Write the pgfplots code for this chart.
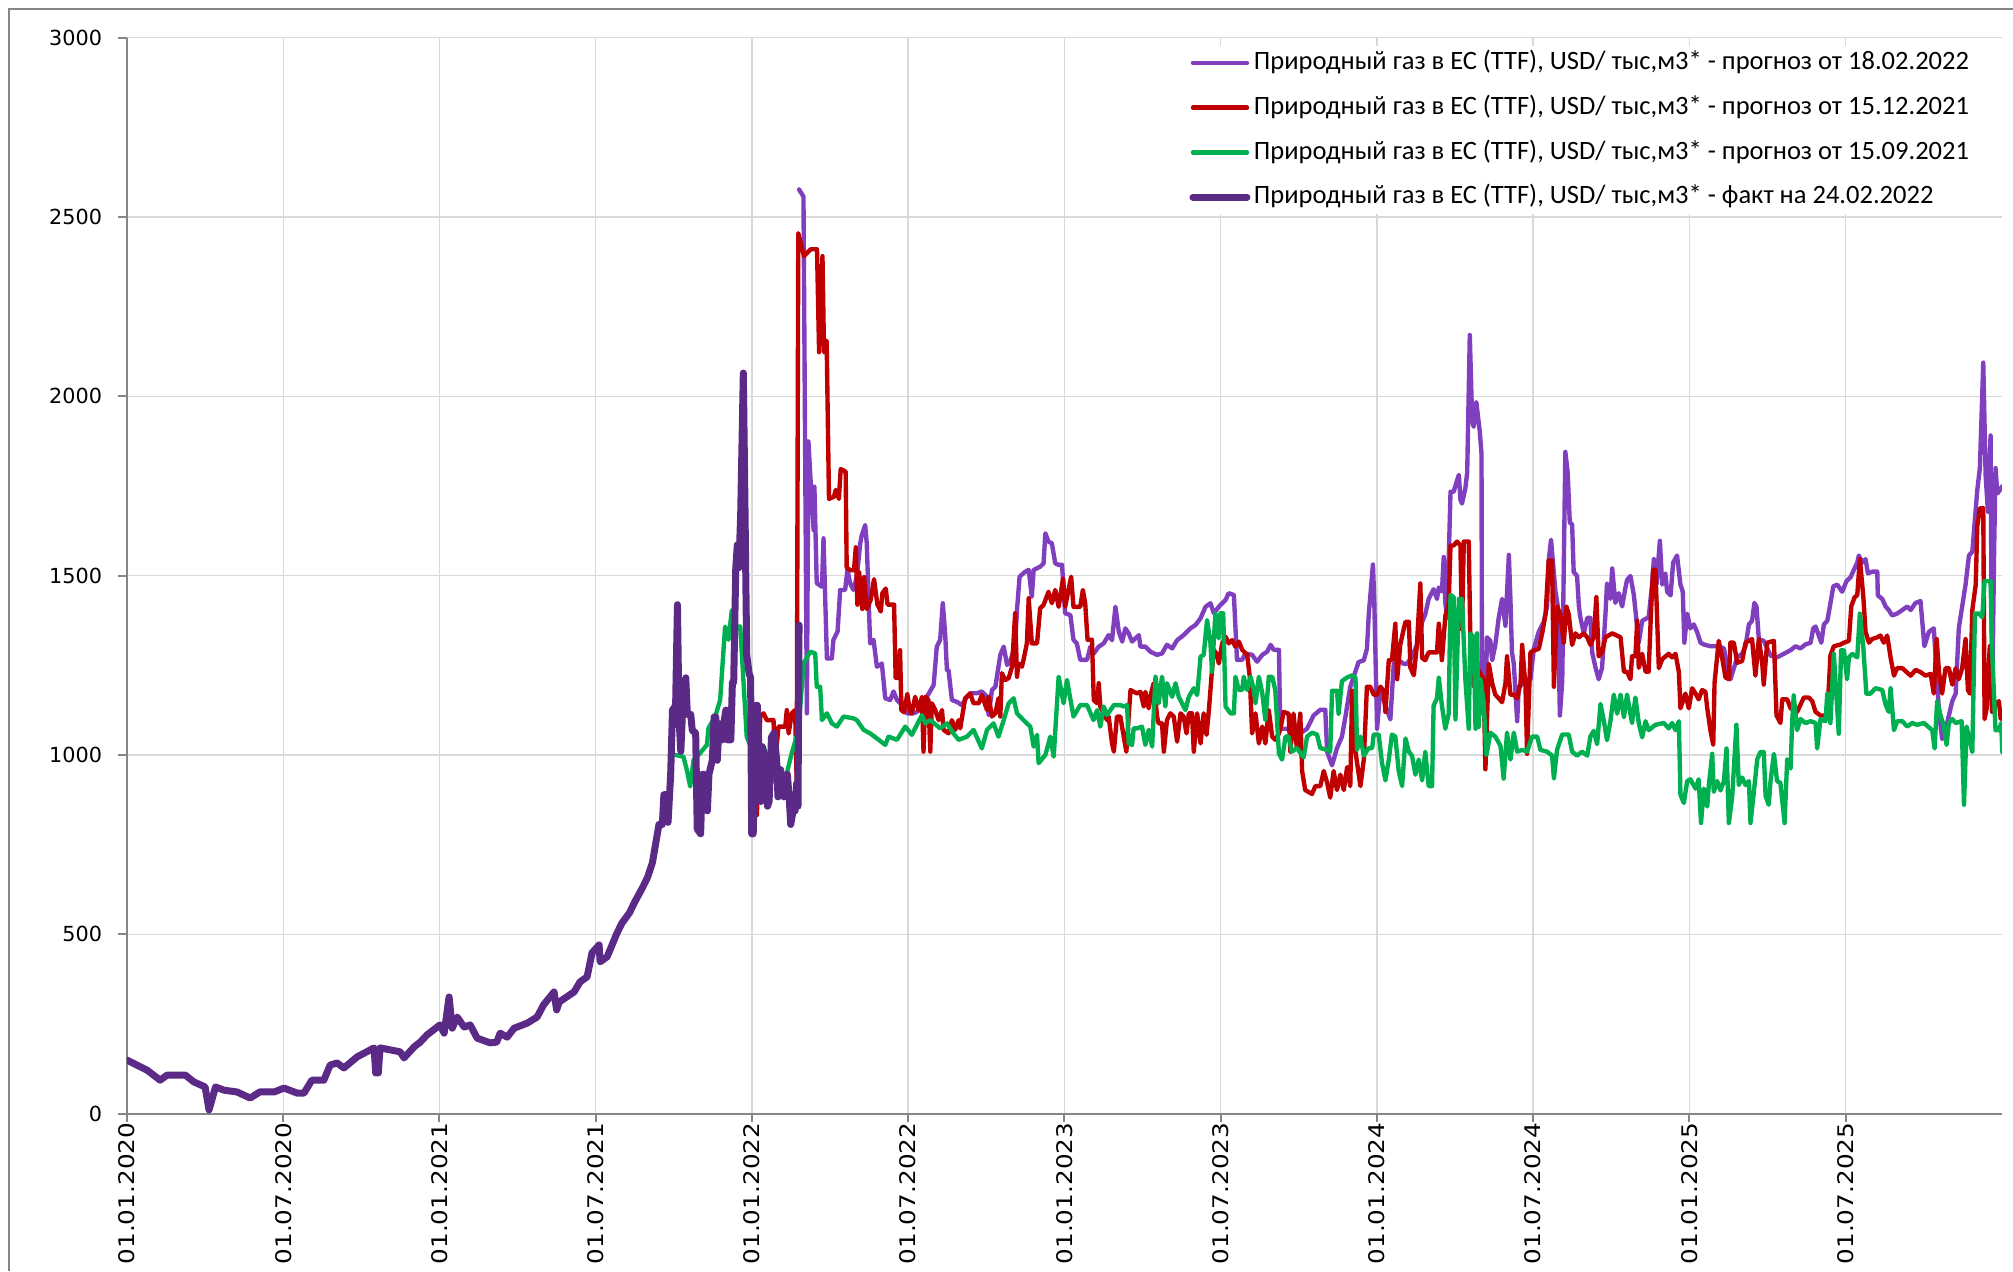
\documentclass[border=0pt]{standalone}
\usepackage{pgfplots}
\pgfplotsset{compat=1.18}
\usepackage{fontspec}
\setmainfont{Carlito}
\newfontfamily\tickfont{DejaVu Sans}
\newfontfamily\xtickfont[FakeStretch=1.15]{DejaVu Sans}
\definecolor{fcpurple}{HTML}{7F3FBF}
\definecolor{factpurple}{HTML}{5B2A86}
\definecolor{fcred}{HTML}{C00000}
\definecolor{fcgreen}{HTML}{00B050}
\definecolor{axgray}{RGB}{134,134,134}
\definecolor{gridgray}{HTML}{D9D9D9}
\begin{document}
\begin{tikzpicture}
\useasboundingbox (-50.8pt,-63pt) rectangle (754.4pt,445.4pt);
\draw[axgray, line width=0.8pt] (-47.2pt,-63pt) -- (-47.2pt,441.8pt) -- (754.4pt,441.8pt);
\begin{axis}[
  at={(0,0)}, anchor=south west,
  scale only axis, width=749.9pt, height=430.3pt,
  xmin=0, xmax=72, ymin=0, ymax=3000,
  axis x line*=bottom, axis y line*=left,
  axis line style={draw=axgray, line width=0.8pt, -},
  xtick={0,6,12,18,24,30,36,42,48,54,60,66},
  xticklabels={01.01.2020,01.07.2020,01.01.2021,01.07.2021,01.01.2022,01.07.2022,01.01.2023,01.07.2023,01.01.2024,01.07.2024,01.01.2025,01.07.2025},
  ytick={0,500,1000,1500,2000,2500,3000},
  yticklabels={0,500,1000,1500,2000,2500,3000},
  xticklabel style={rotate=90, anchor=east, inner sep=0pt, font=\xtickfont\fontsize{8.6}{10}\selectfont},
  yticklabel style={anchor=east, inner sep=0pt, xshift=-6.3pt, font=\tickfont\fontsize{8.3}{10}\selectfont},
  tick align=outside, major tick length=3.5pt,
  tick style={draw=axgray, line width=0.8pt},
  grid=major, grid style={draw=gridgray, line width=0.55pt},
  legend cell align=left,
  legend image code/.code={\draw[#1] (0pt,0pt) -- (21.6pt,0pt);},
  legend style={at={(0.5638,0.993)}, anchor=north west, draw=none, fill=white,
    inner sep=2pt, row sep=8.2pt, font=\fontsize{10.6}{12}\selectfont,
    nodes={inner sep=0pt, text height=7.5pt, text depth=2.2pt, anchor=west},
    /tikz/every odd column/.style={column sep=1.4pt}},
  every axis plot/.append style={line join=round, line cap=round},
]
\addplot[color=fcpurple, line width=1.75pt] coordinates {
(25.81,2577) (25.98,2557) (26.11,1116) (26.17,1874) (26.26,1757) (26.37,1627) (26.4,1748) (26.49,1479) (26.69,1469) (26.75,1604) (26.88,1269) (27.07,1269) (27.13,1321) (27.29,1344) (27.39,1460) (27.58,1460) (27.67,1516) (27.77,1479) (27.9,1460) (28.03,1497) (28.16,1590) (28.22,1613) (28.35,1641) (28.41,1590) (28.54,1311) (28.67,1321) (28.8,1246) (28.93,1251) (28.99,1255) (29.12,1158) (29.31,1153) (29.44,1177) (29.57,1153) (29.7,1144) (29.95,1116) (30.21,1116) (30.46,1125) (30.72,1162) (30.98,1195) (31.1,1302) (31.23,1321) (31.33,1423) (31.42,1339) (31.49,1237) (31.55,1237) (31.68,1153) (31.87,1148) (32.06,1139) (32.26,1162) (32.45,1172) (32.64,1172) (32.83,1177) (33.03,1162) (33.09,1111) (33.22,1181) (33.35,1190) (33.54,1279) (33.67,1302) (33.8,1251) (33.92,1260) (34.11,1307) (34.18,1404) (34.28,1497) (34.5,1511) (34.63,1516) (34.75,1441) (34.82,1516) (35.07,1525) (35.2,1534) (35.27,1618) (35.39,1595) (35.52,1590) (35.65,1534) (35.78,1530) (35.91,1530) (36.03,1395) (36.23,1390) (36.35,1321) (36.48,1311) (36.61,1265) (36.87,1265) (37.0,1302) (37.13,1283) (37.32,1302) (37.51,1311) (37.7,1334) (37.83,1320) (37.96,1413) (38.09,1344) (38.22,1316) (38.34,1353) (38.47,1339) (38.6,1316) (38.73,1325) (38.86,1334) (38.92,1302) (39.11,1302) (39.3,1288) (39.56,1279) (39.75,1283) (39.94,1307) (40.14,1297) (40.33,1320) (40.58,1334) (40.84,1353) (41.03,1362) (41.23,1381) (41.42,1413) (41.61,1423) (41.74,1395) (41.93,1413) (42.06,1423) (42.19,1432) (42.31,1451) (42.51,1446) (42.63,1265) (42.83,1265) (42.95,1283) (43.21,1279) (43.4,1260) (43.6,1279) (43.79,1288) (43.92,1307) (44.04,1293) (44.24,1293) (44.29,1073) (44.68,1073) (44.87,1051) (45.32,1073) (45.57,1110) (45.83,1126) (46.02,1126) (46.09,1009) (46.28,971) (46.47,1019) (46.66,1051) (46.79,1105) (46.98,1190) (47.3,1259) (47.5,1264) (47.62,1296) (47.69,1392) (47.85,1531) (47.9,1435) (48.01,1073) (48.14,1190) (48.33,1137) (48.52,1099) (48.65,1254) (48.84,1264) (49.03,1254) (49.16,1254) (49.35,1275) (49.54,1307) (49.74,1371) (49.86,1392) (49.99,1435) (50.18,1462) (50.31,1435) (50.38,1467) (50.5,1456) (50.57,1552) (50.63,1424) (50.7,1382) (50.83,1734) (50.95,1734) (51.08,1765) (51.15,1781) (51.21,1712) (51.27,1701) (51.4,1744) (51.47,1787) (51.57,2171) (51.66,1936) (51.72,1915) (51.82,1984) (51.88,1947) (51.95,1904) (52.02,1840) (52.04,1115) (52.17,1126) (52.23,1328) (52.36,1318) (52.43,1264) (52.55,1307) (52.68,1382) (52.81,1435) (52.94,1360) (53.07,1558) (53.13,1435) (53.19,1286) (53.26,1254) (53.39,1094) (53.45,1190) (53.64,1200) (53.77,1200) (53.9,1211) (54.03,1296) (54.22,1344) (54.41,1371) (54.54,1414) (54.6,1542) (54.69,1600) (54.77,1531) (54.86,1456) (54.95,1414) (55.03,1110) (55.12,1206) (55.24,1845) (55.33,1787) (55.41,1648) (55.5,1643) (55.56,1510) (55.69,1499) (55.76,1414) (55.82,1382) (55.95,1339) (56.08,1382) (56.2,1382) (56.27,1286) (56.4,1243) (56.52,1211) (56.65,1243) (56.78,1392) (56.84,1478) (56.97,1435) (57.04,1520) (57.16,1424) (57.29,1451) (57.42,1414) (57.55,1467) (57.61,1488) (57.74,1499) (57.87,1446) (58.06,1313) (58.19,1374) (58.44,1384) (58.57,1475) (58.64,1546) (58.74,1475) (58.87,1597) (58.96,1475) (59.08,1506) (59.15,1455) (59.28,1445) (59.38,1536) (59.53,1556) (59.66,1475) (59.75,1455) (59.81,1313) (59.92,1394) (60.04,1353) (60.17,1364) (60.3,1343) (60.43,1313) (60.56,1308) (60.81,1303) (61.07,1303) (61.33,1297) (61.5,1230) (61.58,1211) (61.84,1272) (62.03,1282) (62.16,1303) (62.29,1364) (62.41,1374) (62.5,1424) (62.58,1414) (62.67,1323) (62.86,1318) (63.12,1277) (63.37,1272) (63.63,1282) (63.89,1292) (64.08,1303) (64.27,1297) (64.46,1308) (64.66,1313) (64.76,1353) (64.85,1358) (65.07,1313) (65.17,1364) (65.3,1374) (65.4,1414) (65.53,1470) (65.68,1475) (65.87,1455) (66.04,1485) (66.19,1495) (66.32,1516) (66.45,1536) (66.51,1556) (66.64,1536) (66.77,1546) (66.86,1506) (67.02,1511) (67.22,1511) (67.24,1445) (67.41,1435) (67.54,1414) (67.66,1404) (67.79,1389) (67.98,1394) (68.18,1404) (68.37,1414) (68.5,1404) (68.69,1424) (68.88,1429) (69.03,1303) (69.2,1343) (69.39,1353) (69.59,1120) (69.71,1044) (69.84,1069) (69.97,1110) (70.1,1150) (70.23,1171) (70.35,1353) (70.48,1414) (70.61,1475) (70.74,1556) (70.87,1567) (71.06,1739) (71.16,1800) (71.29,2094) (71.38,1780) (71.47,1678) (71.57,1891) (71.63,1120) (71.7,1536) (71.76,1800) (71.83,1729) (71.93,1739) (72.02,1749)
};
\addlegendentry{Природный газ в ЕС (TTF), USD/ тыс,м3* - прогноз от 18.02.2022}
\addplot[color=fcred, line width=1.75pt] coordinates {
(24.19,832) (24.32,1107) (24.45,1116) (24.57,1097) (24.83,1097) (24.89,977) (25.02,1079) (25.28,1079) (25.34,1125) (25.41,1060) (25.53,1116) (25.66,1125) (25.72,921) (25.78,2455) (26.0,2391) (26.26,2410) (26.5,2410) (26.58,2123) (26.71,2391) (26.77,2123) (26.87,2155) (26.96,1714) (27.15,1720) (27.22,1739) (27.34,1714) (27.41,1797) (27.6,1790) (27.64,1522) (27.79,1515) (27.92,1515) (27.99,1579) (28.05,1419) (28.12,1509) (28.24,1407) (28.31,1496) (28.41,1407) (28.56,1432) (28.69,1490) (28.82,1419) (28.95,1400) (29.01,1451) (29.14,1464) (29.21,1419) (29.46,1419) (29.52,1215) (29.65,1215) (29.69,1292) (29.74,1125) (29.84,1119) (29.97,1170) (30.07,1119) (30.14,1116) (30.27,1162) (30.4,1125) (30.53,1162) (30.59,1009) (30.66,1162) (30.78,1153) (30.85,1009) (30.91,1144) (31.04,1125) (31.17,1097) (31.3,1125) (31.36,1070) (31.55,1060) (31.68,1097) (31.81,1070) (31.94,1097) (32.0,1074) (32.19,1158) (32.38,1172) (32.51,1144) (32.71,1144) (32.83,1167) (33.03,1125) (33.09,1162) (33.22,1107) (33.35,1116) (33.47,1158) (33.54,1107) (33.6,1228) (33.73,1209) (33.86,1214) (33.99,1246) (34.11,1395) (34.18,1218) (34.24,1255) (34.37,1246) (34.43,1265) (34.56,1311) (34.63,1437) (34.75,1311) (34.95,1311) (35.07,1409) (35.2,1418) (35.39,1455) (35.52,1423) (35.65,1460) (35.78,1413) (35.95,1492) (36.03,1413) (36.16,1460) (36.26,1497) (36.35,1413) (36.61,1413) (36.71,1460) (36.8,1423) (36.89,1321) (37.06,1321) (37.13,1153) (37.26,1144) (37.32,1200) (37.38,1135) (37.51,1116) (37.64,1097) (37.7,1107) (37.83,1032) (37.9,1009) (38.02,1107) (38.15,1107) (38.28,1051) (38.38,1009) (38.47,1107) (38.54,1181) (38.66,1176) (38.79,1172) (38.92,1176) (39.05,1135) (39.11,1176) (39.24,1130) (39.33,1172) (39.43,1200) (39.56,1107) (39.62,1088) (39.75,1088) (39.82,1009) (39.94,1097) (40.07,1116) (40.2,1107) (40.33,1037) (40.46,1116) (40.58,1107) (40.69,1060) (40.78,1116) (40.9,1116) (40.97,1009) (41.1,1116) (41.23,1032) (41.35,1116) (41.46,1056) (41.55,1125) (41.67,1237) (41.74,1293) (41.87,1279) (41.93,1255) (42.06,1311) (42.19,1330) (42.31,1311) (42.44,1320) (42.57,1302) (42.7,1316) (42.83,1293) (43.02,1279) (43.12,1218) (43.21,1060) (43.34,1116) (43.47,1032) (43.6,1079) (43.72,1032) (43.85,1125) (43.98,1051) (44.1,1042) (44.24,1060) (44.3,1073) (44.42,1120) (44.61,1115) (44.68,1009) (44.8,1115) (44.93,1019) (45.06,1115) (45.13,955) (45.25,902) (45.51,891) (45.64,913) (45.83,913) (45.96,955) (46.09,923) (46.21,881) (46.34,955) (46.47,902) (46.6,945) (46.73,902) (46.86,966) (46.98,913) (47.05,1179) (47.18,1009) (47.37,913) (47.5,987) (47.62,1190) (47.75,1190) (47.88,1168) (48.01,1168) (48.14,1190) (48.26,1179) (48.33,1120) (48.46,1264) (48.58,1264) (48.71,1366) (48.78,1211) (48.9,1307) (49.03,1350) (49.1,1371) (49.23,1371) (49.29,1243) (49.42,1222) (49.54,1307) (49.67,1478) (49.74,1270) (49.86,1264) (49.99,1286) (50.31,1286) (50.38,1366) (50.5,1264) (50.63,1387) (50.76,1424) (50.83,1584) (50.95,1584) (51.08,1595) (51.21,1584) (51.27,1350) (51.34,1595) (51.53,1595) (51.59,1328) (51.66,1328) (51.72,1190) (51.85,1243) (52.1,1211) (52.17,960) (52.3,1254) (52.43,1200) (52.55,1168) (52.68,1158) (52.81,1147) (52.94,1200) (53.0,1275) (53.13,1168) (53.26,1168) (53.39,1158) (53.52,1200) (53.58,1307) (53.71,1190) (53.77,1003) (53.9,1286) (54.03,1291) (54.22,1296) (54.35,1339) (54.48,1392) (54.6,1542) (54.73,1542) (54.8,1190) (54.92,1414) (55.05,1392) (55.18,1312) (55.28,1414) (55.37,1392) (55.5,1307) (55.63,1339) (55.76,1328) (55.95,1339) (56.08,1328) (56.2,1307) (56.33,1328) (56.43,1440) (56.52,1275) (56.65,1286) (56.78,1328) (57.04,1339) (57.36,1328) (57.49,1232) (57.61,1232) (57.74,1211) (57.8,1275) (57.93,1275) (58.0,1374) (58.06,1243) (58.19,1282) (58.32,1232) (58.44,1232) (58.53,1400) (58.61,1516) (58.7,1516) (58.83,1242) (58.96,1267) (59.21,1282) (59.34,1272) (59.47,1282) (59.6,1231) (59.66,1130) (59.85,1171) (59.98,1130) (60.11,1186) (60.24,1171) (60.36,1155) (60.49,1181) (60.62,1176) (60.69,1130) (60.81,1069) (60.92,1028) (60.97,1201) (61.13,1318) (61.26,1272) (61.39,1216) (61.52,1211) (61.58,1313) (61.71,1313) (61.84,1257) (62.03,1262) (62.16,1313) (62.29,1318) (62.41,1323) (62.54,1221) (62.67,1323) (62.8,1257) (62.86,1196) (62.99,1313) (63.25,1318) (63.35,1110) (63.5,1089) (63.57,1155) (63.76,1155) (63.89,1130) (64.14,1120) (64.4,1160) (64.59,1160) (64.72,1150) (64.85,1120) (65.04,1110) (65.3,1110) (65.42,1277) (65.55,1303) (65.81,1308) (65.94,1313) (66.13,1318) (66.22,1414) (66.35,1440) (66.45,1445) (66.55,1546) (66.68,1445) (66.77,1343) (66.9,1313) (67.02,1323) (67.22,1328) (67.34,1333) (67.47,1313) (67.6,1333) (67.73,1272) (67.86,1221) (67.98,1242) (68.18,1242) (68.5,1221) (68.69,1237) (68.88,1231) (69.07,1221) (69.27,1226) (69.39,1171) (69.5,1323) (69.59,1231) (69.71,1171) (69.84,1242) (69.97,1242) (70.1,1196) (70.23,1242) (70.35,1211) (70.48,1242) (70.61,1323) (70.7,1181) (70.78,1171) (70.87,1404) (71.0,1475) (71.06,1638) (71.16,1688) (71.29,1688) (71.34,1100) (71.42,1130) (71.54,1303) (71.63,1120) (71.76,1140) (71.89,1150) (71.96,1100) (72.02,1120)
};
\addlegendentry{Природный газ в ЕС (TTF), USD/ тыс,м3* - прогноз от 15.12.2021}
\addplot[color=fcgreen, line width=1.75pt] coordinates {
(21.05,1000) (21.37,995) (21.5,958) (21.63,912) (21.76,986) (22.01,1005) (22.27,1028) (22.33,1074) (22.59,1107) (22.78,1153) (22.97,1358) (23.1,1321) (23.23,1404) (23.36,1358) (23.55,1358) (23.68,1200) (23.8,1051) (24.0,1014) (24.19,1014) (24.45,1023) (24.83,930) (25.15,939) (25.34,949) (25.53,1005) (25.79,1070) (25.98,1255) (26.24,1288) (26.43,1283) (26.49,1190) (26.62,1190) (26.69,1097) (26.88,1116) (27.07,1088) (27.26,1079) (27.52,1107) (27.9,1102) (28.03,1097) (28.29,1070) (28.54,1060) (28.8,1046) (29.12,1028) (29.25,1051) (29.57,1042) (29.89,1079) (30.14,1056) (30.53,1111) (30.66,1088) (30.85,1097) (31.23,1074) (31.49,1088) (31.74,1060) (31.94,1042) (32.26,1051) (32.51,1070) (32.83,1018) (33.03,1070) (33.28,1088) (33.47,1051) (33.67,1097) (33.86,1144) (34.05,1158) (34.18,1116) (34.43,1097) (34.69,1079) (34.82,1023) (34.95,1056) (35.01,977) (35.27,1000) (35.46,1051) (35.59,995) (35.78,1218) (35.97,1144) (36.1,1209) (36.35,1107) (36.61,1139) (36.87,1139) (37.12,1097) (37.26,1125) (37.38,1079) (37.51,1135) (37.64,1111) (37.9,1139) (38.15,1139) (38.28,1135) (38.41,1139) (38.47,1032) (38.6,1028) (38.66,1074) (38.79,1074) (38.98,1079) (39.11,1028) (39.24,1070) (39.37,1023) (39.5,1218) (39.62,1144) (39.75,1218) (39.88,1135) (39.94,1200) (40.14,1162) (40.27,1200) (40.39,1162) (40.52,1144) (40.65,1125) (40.78,1162) (40.97,1186) (41.1,1167) (41.23,1274) (41.35,1279) (41.48,1376) (41.61,1311) (41.67,1232) (41.8,1395) (41.93,1325) (41.99,1395) (42.1,1395) (42.19,1135) (42.38,1116) (42.51,1116) (42.57,1218) (42.7,1181) (42.83,1181) (42.89,1218) (43.02,1181) (43.15,1218) (43.28,1181) (43.34,1144) (43.47,1218) (43.6,1172) (43.72,1097) (43.85,1218) (43.98,1218) (44.1,1181) (44.24,1004) (44.36,987) (44.49,1051) (44.61,1051) (44.74,1009) (44.93,1019) (45.19,993) (45.32,1051) (45.51,1062) (45.7,1057) (45.83,1019) (46.09,1014) (46.21,1009) (46.28,1179) (46.47,1179) (46.53,1115) (46.66,1206) (46.86,1216) (47.05,1222) (47.18,1216) (47.24,1014) (47.37,1051) (47.5,998) (47.69,1019) (47.82,1019) (47.88,1057) (48.07,1057) (48.2,977) (48.33,929) (48.46,987) (48.58,1057) (48.71,1051) (48.84,955) (48.97,913) (49.1,1046) (49.23,1009) (49.35,998) (49.48,945) (49.61,987) (49.74,929) (49.86,1009) (49.99,913) (50.12,913) (50.18,1137) (50.31,1158) (50.38,1216) (50.5,1137) (50.63,1073) (50.76,1115) (50.83,1446) (50.95,1440) (51.02,1099) (51.15,1435) (51.27,1435) (51.4,1211) (51.53,1073) (51.59,1339) (51.72,1328) (51.79,1073) (51.85,1339) (51.91,1078) (51.98,1211) (52.1,1147) (52.21,1000) (52.36,1062) (52.55,1051) (52.75,1025) (52.87,934) (53.0,1062) (53.13,987) (53.26,1062) (53.39,1009) (53.58,1014) (53.77,1009) (53.96,1051) (54.16,1051) (54.28,1014) (54.54,1009) (54.73,998) (54.8,934) (54.92,1014) (55.12,1057) (55.37,1057) (55.5,1009) (55.69,998) (55.88,1009) (56.08,998) (56.2,1051) (56.33,1067) (56.46,1030) (56.59,1142) (56.72,1094) (56.84,1041) (56.97,1094) (57.1,1168) (57.23,1115) (57.36,1168) (57.49,1105) (57.61,1168) (57.8,1089) (57.93,1160) (58.06,1089) (58.19,1049) (58.32,1094) (58.44,1069) (58.7,1084) (59.02,1089) (59.21,1074) (59.34,1089) (59.47,1069) (59.6,1094) (59.66,889) (59.79,866) (59.92,927) (60.04,932) (60.24,906) (60.36,932) (60.45,810) (60.56,906) (60.69,856) (60.75,916) (60.88,1003) (60.94,897) (61.07,927) (61.2,901) (61.33,927) (61.43,1018) (61.52,810) (61.65,886) (61.81,1084) (61.9,916) (62.03,937) (62.16,916) (62.29,927) (62.35,810) (62.48,897) (62.61,988) (62.73,1008) (62.86,1008) (62.93,886) (63.05,861) (63.12,927) (63.25,1003) (63.37,927) (63.5,922) (63.66,810) (63.76,988) (63.89,962) (63.95,1089) (64.01,1166) (64.14,1069) (64.27,1100) (64.46,1089) (64.66,1094) (64.85,1089) (64.91,1018) (65.04,1100) (65.23,1094) (65.3,1171) (65.42,1089) (65.55,1282) (65.74,1059) (65.83,1292) (65.94,1292) (66.06,1211) (66.13,1272) (66.26,1282) (66.45,1272) (66.55,1394) (66.68,1303) (66.8,1171) (66.96,1171) (67.15,1186) (67.41,1181) (67.54,1140) (67.66,1120) (67.73,1186) (67.86,1069) (67.98,1094) (68.18,1094) (68.37,1079) (68.56,1089) (68.75,1084) (69.01,1089) (69.33,1069) (69.42,1018) (69.52,1150) (69.65,1110) (69.78,1079) (69.88,1028) (69.97,1089) (70.1,1100) (70.23,1089) (70.46,1094) (70.55,861) (70.65,1079) (70.87,1008) (70.97,1394) (71.13,1394) (71.25,1384) (71.34,1485) (71.57,1485) (71.63,1292) (71.76,1069) (71.89,1069) (71.98,1089) (72.02,1008)
};
\addlegendentry{Природный газ в ЕС (TTF), USD/ тыс,м3* - прогноз от 15.09.2021}
\addplot[color=factpurple, line width=2.8pt] coordinates {
(0,149) (0.38,135) (0.77,121) (1.27,93) (1.54,107) (2.24,107) (2.57,88) (3.0,74) (3.15,10) (3.4,74) (3.73,65) (4.23,60) (4.73,43) (5.1,60) (5.65,60) (6.03,71) (6.53,57) (6.8,57) (7.1,93) (7.56,93) (7.8,135) (8.07,141) (8.33,127) (8.84,158) (9.49,183) (9.55,113) (9.65,113) (9.72,183) (10.49,172) (10.64,155) (11.03,186) (11.26,199) (11.52,219) (12.02,247) (12.18,224) (12.37,325) (12.49,238) (12.68,269) (12.95,241) (13.18,247) (13.45,210) (13.95,197) (14.2,199) (14.33,224) (14.6,213) (14.87,238) (15.37,252) (15.75,269) (16.0,303) (16.4,339) (16.5,289) (16.6,311) (17.17,339) (17.4,367) (17.67,381) (17.86,448) (18.13,470) (18.17,423) (18.44,437) (18.8,500) (19.0,530) (19.3,560) (19.5,590) (19.8,630) (20.0,660) (20.18,700) (20.43,806) (20.56,806) (20.62,889) (20.75,889) (20.78,812) (20.88,946) (20.95,1125) (21.07,1138) (21.14,1419) (21.2,1100) (21.27,1010) (21.33,1113) (21.46,1215) (21.52,1113) (21.65,1113) (21.71,1068) (21.84,1061) (21.9,793) (22.03,780) (22.1,946) (22.16,946) (22.29,844) (22.35,946) (22.48,985) (22.55,1106) (22.61,1106) (22.67,985) (22.74,1087) (22.87,1042) (22.93,1093) (23.0,1125) (23.06,1042) (23.19,1042) (23.25,1202) (23.3,1202) (23.38,1522) (23.44,1586) (23.5,1522) (23.57,1675) (23.67,2065) (23.73,1714) (23.8,1279) (23.89,1228) (23.95,1215) (23.99,780) (24.05,780) (24.15,1138) (24.21,1138) (24.27,1010) (24.34,870) (24.4,1023) (24.5,985) (24.6,857) (24.66,870) (24.75,1049) (24.85,1061) (24.95,985) (25.0,883) (25.1,959) (25.23,883) (25.36,946) (25.43,883) (25.49,806) (25.58,844) (25.66,844) (25.72,921) (25.77,857) (25.81,1362)
};
\addlegendentry{Природный газ в ЕС (TTF), USD/ тыс,м3* - факт на 24.02.2022}
\end{axis}
\end{tikzpicture}
\end{document}
